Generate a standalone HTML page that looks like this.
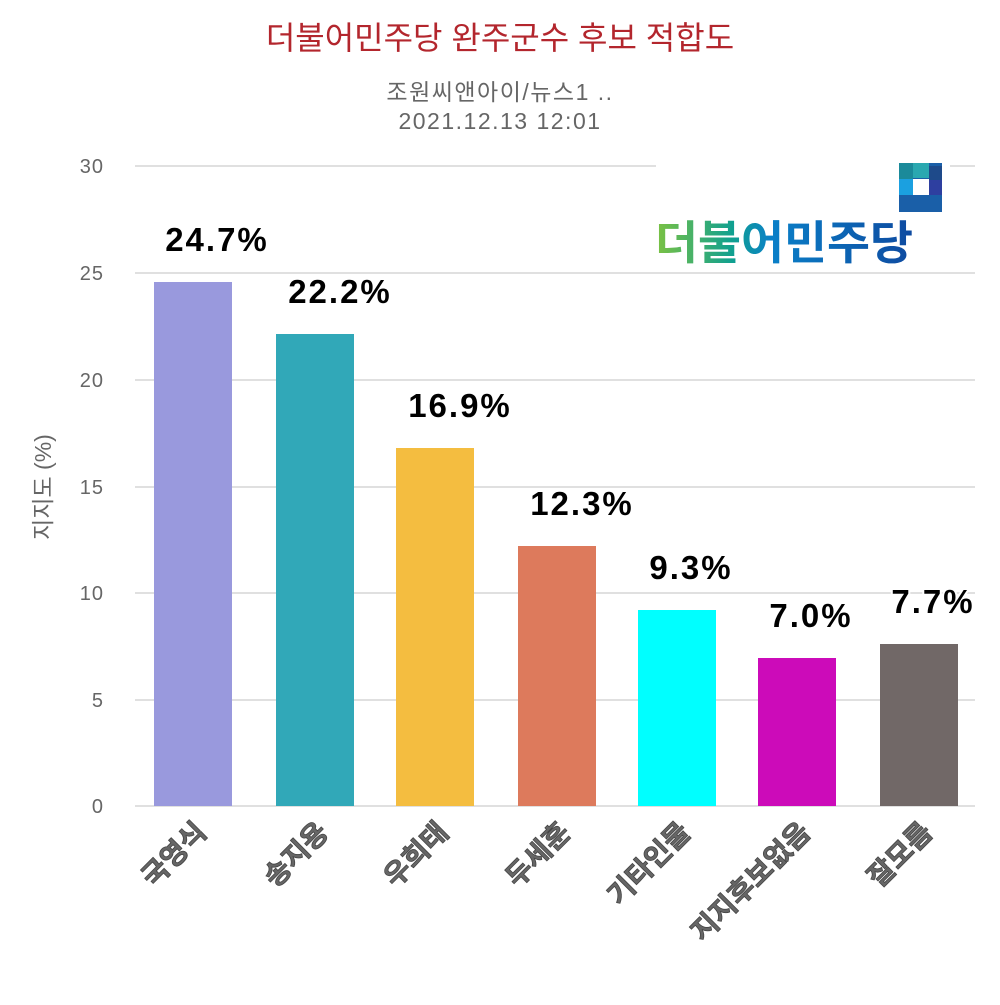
<!DOCTYPE html>
<html><head><meta charset="utf-8"><style>
body{margin:0;background:#fff}
svg text{font-family:"Liberation Sans","Noto Sans CJK KR",sans-serif}
</style></head><body>
<svg width="1000" height="1000" xmlns="http://www.w3.org/2000/svg">
<rect width="1000" height="1000" fill="#fff"/>
<text x="500" y="49" text-anchor="middle" font-size="32" fill="#b3262d">더불어민주당 완주군수 후보 적합도</text>
<text x="500" y="100" text-anchor="middle" font-size="23" fill="#666" letter-spacing="1.5">조원씨앤아이/뉴스1 ..</text>
<text x="500" y="129" text-anchor="middle" font-size="23" fill="#666" letter-spacing="1.5">2021.12.13 12:01</text>
<g stroke="#e0e0e0" stroke-width="2">
<line x1="135" y1="166" x2="975" y2="166"/>
<line x1="135" y1="273" x2="975" y2="273"/>
<line x1="135" y1="380" x2="975" y2="380"/>
<line x1="135" y1="487" x2="975" y2="487"/>
<line x1="135" y1="593" x2="975" y2="593"/>
<line x1="135" y1="700" x2="975" y2="700"/>
<line x1="135" y1="806" x2="975" y2="806"/>
</g>
<g font-size="20" fill="#666" text-anchor="end" letter-spacing="1">
<text x="104" y="173">30</text><text x="104" y="280">25</text><text x="104" y="387">20</text>
<text x="104" y="494">15</text><text x="104" y="600">10</text><text x="104" y="707">5</text><text x="104" y="813">0</text>
</g>
<text transform="translate(51,487) rotate(-90)" text-anchor="middle" font-size="23" fill="#666">지지도 (%)</text>
<!-- logo -->
<rect x="656" y="155" width="294" height="112" fill="#fff"/>
<rect x="899" y="163" width="43" height="49" fill="#1a5fa8"/>
<rect x="899" y="163" width="14" height="16" fill="#1b8a9a"/><rect x="913" y="163" width="16" height="15" fill="#2aa8b0"/><rect x="929" y="166" width="13" height="14" fill="#1e4a8a"/>
<rect x="899" y="179" width="14" height="16" fill="#1ba0e0"/><rect x="913" y="179" width="16" height="16" fill="#fff"/><rect x="929" y="180" width="13" height="15" fill="#2e3fa0"/>
<defs><linearGradient id="lg" x1="0" x2="1"><stop offset="0" stop-color="#7cc242"/><stop offset="0.3" stop-color="#10a090"/><stop offset="0.45" stop-color="#0a80c8"/><stop offset="1" stop-color="#0e4aa0"/></linearGradient></defs>
<text x="655" y="259" font-size="46" font-weight="bold" fill="url(#lg)" textLength="258" lengthAdjust="spacingAndGlyphs">더불어민주당</text>
<!-- bars -->
<rect x="154" y="282" width="78" height="524" fill="#9999dd"/>
<rect x="276" y="334" width="78" height="472" fill="#31a8b8"/>
<rect x="396" y="448" width="78" height="358" fill="#f4bd40"/>
<rect x="518" y="546" width="78" height="260" fill="#dd7a5c"/>
<rect x="638" y="610" width="78" height="196" fill="#00ffff"/>
<rect x="758" y="658" width="78" height="148" fill="#cc0bb9"/>
<rect x="880" y="644" width="78" height="162" fill="#716867"/>
<g font-size="33" font-weight="bold" fill="#000" text-anchor="middle" stroke="#fff" stroke-width="4" paint-order="stroke" letter-spacing="2">
<text x="217" y="251">24.7%</text>
<text x="340" y="303">22.2%</text>
<text x="460" y="417">16.9%</text>
<text x="582" y="515">12.3%</text>
<text x="691" y="579">9.3%</text>
<text x="811" y="627">7.0%</text>
<text x="933" y="613">7.7%</text>
</g>
<g font-size="28" font-weight="bold" fill="#666" text-anchor="end" stroke="#444" stroke-width="0.8">
<text transform="translate(208,834) rotate(-45)">국영식</text>
<text transform="translate(330,834) rotate(-45)">송지용</text>
<text transform="translate(450,834) rotate(-45)">우희태</text>
<text transform="translate(572,834) rotate(-45)">두세훈</text>
<text transform="translate(692,834) rotate(-45)">기타인물</text>
<text transform="translate(812,834) rotate(-45)">지지후보없음</text>
<text transform="translate(934,834) rotate(-45)">잘모름</text>
</g>
</svg>
</body></html>
